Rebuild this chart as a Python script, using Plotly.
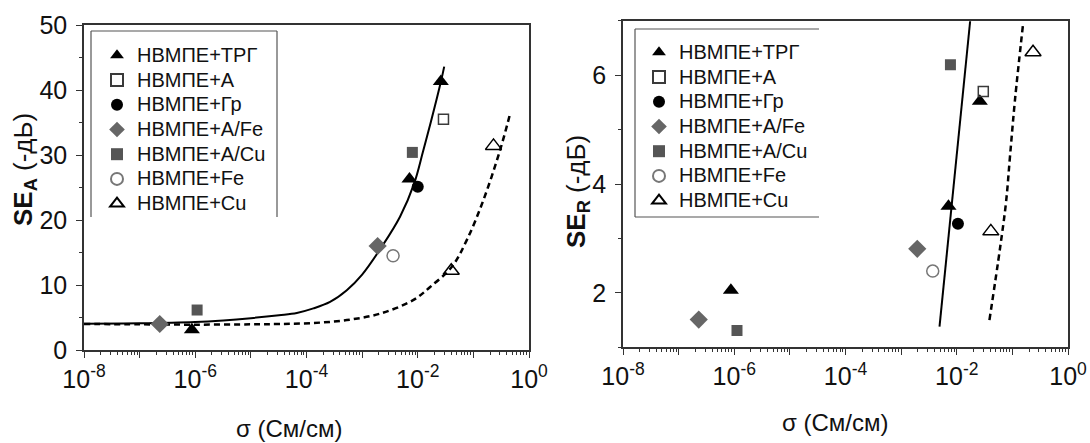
import plotly.graph_objects as go

W, H = 1090, 443

# ---------------- data ----------------
names = ["НВМПЕ+ТРГ", "НВМПЕ+А", "НВМПЕ+Гр", "НВМПЕ+A/Fe", "НВМПЕ+A/Cu", "НВМПЕ+Fe", "НВМПЕ+Cu"]

# conductivity (См/см) and SE_A (-dB) for the left panel
sig_A_trg = [8.7e-7, 7.1e-3, 2.6e-2]
se_A_trg = [3.1, 26.3, 41.3]
sig_A_a = [2.9e-2]
se_A_a = [35.5]
sig_A_gr = [1.0e-2]
se_A_gr = [25.1]
sig_A_afe = [2.3e-7, 1.9e-3]
se_A_afe = [4.0, 16.0]
sig_A_acu = [1.08e-6, 8.0e-3]
se_A_acu = [6.15, 30.4]
sig_A_fe = [3.6e-3]
se_A_fe = [14.5]
sig_A_cu = [4.0e-2, 0.23]
se_A_cu = [12.2, 31.4]

# fitted curves, left panel
fit_A_solid_sig = [1e-8, 1e-7, 1e-6, 3.2e-6, 1e-5, 3.2e-5, 6.7e-5, 1.33e-4, 2.65e-4, 5.3e-4,
                   1.0e-3, 2.26e-3, 4.8e-3, 8.6e-3, 1.24e-2, 1.71e-2, 2.61e-2, 2.99e-2]
fit_A_solid_se = [4.05, 4.1, 4.3, 4.55, 4.9, 5.35, 5.7, 6.4, 7.4, 9.2,
                  11.6, 15.9, 20.5, 25.6, 30.5, 35.0, 41.3, 43.6]
fit_A_dash_sig = [1e-8, 1e-7, 1e-6, 1e-5, 3.35e-5, 1.33e-4, 5.3e-4, 2.11e-3, 8.4e-3, 1.67e-2,
                  4.1e-2, 7.6e-2, 0.152, 0.303, 0.459]
fit_A_dash_se = [4.0, 3.95, 3.9, 3.95, 4.0, 4.15, 4.6, 5.6, 7.7, 9.7,
                 12.8, 16.9, 23.1, 30.8, 36.4]

# conductivity and SE_R (-dB) for the right panel
sig_R_trg = [8.7e-7, 7.1e-3, 2.6e-2]
se_R_trg = [2.05, 3.59, 5.52]
sig_R_a = [3.0e-2]
se_R_a = [5.70]
sig_R_gr = [1.05e-2]
se_R_gr = [3.27]
sig_R_afe = [2.3e-7, 1.95e-3]
se_R_afe = [1.51, 2.81]
sig_R_acu = [1.12e-6, 7.7e-3]
se_R_acu = [1.31, 6.19]
sig_R_fe = [3.7e-3]
se_R_fe = [2.40]
sig_R_cu = [4.1e-2, 0.235]
se_R_cu = [3.13, 6.42]

fit_R_solid_sig = [4.9e-3, 1.74e-2]
fit_R_solid_se = [1.38, 6.99]
fit_R_dash_sig = [3.87e-2, 6.0e-2, 7.7e-2, 9.1e-2, 0.112, 0.155]
fit_R_dash_se = [1.50, 2.82, 3.67, 4.53, 5.57, 6.92]

x_tick_vals = [1e-8, 1e-7, 1e-6, 1e-5, 1e-4, 1e-3, 1e-2, 1e-1, 1]
x_tick_text = ["10<sup>-8</sup>", "", "10<sup>-6</sup>", "", "10<sup>-4</sup>", "",
               "10<sup>-2</sup>", "", "10<sup>0</sup>"]

# ---------------- styles ----------------
FONT = "Liberation Sans, Arial, sans-serif"
styles = [
    dict(symbol="triangle-up", size=14, color="#000000", line=dict(width=0)),
    dict(symbol="square-open", size=10, color="#3a3a3a", line=dict(width=1.5)),
    dict(symbol="circle", size=12, color="#000000", line=dict(width=0)),
    dict(symbol="diamond", size=14, color="#666666", line=dict(width=0)),
    dict(symbol="square", size=11, color="#555555", line=dict(width=0)),
    dict(symbol="circle-open", size=12, color="#777777", line=dict(width=1.5)),
    dict(symbol="triangle-up-open", size=14, color="#000000", line=dict(width=1.5)),
]

left_sets = [(sig_A_trg, se_A_trg), (sig_A_a, se_A_a), (sig_A_gr, se_A_gr), (sig_A_afe, se_A_afe),
             (sig_A_acu, se_A_acu), (sig_A_fe, se_A_fe), (sig_A_cu, se_A_cu)]
right_sets = [(sig_R_trg, se_R_trg), (sig_R_a, se_R_a), (sig_R_gr, se_R_gr), (sig_R_afe, se_R_afe),
              (sig_R_acu, se_R_acu), (sig_R_fe, se_R_fe), (sig_R_cu, se_R_cu)]

fig = go.Figure()

# curves first (under markers)
fig.add_trace(go.Scatter(x=fit_A_solid_sig, y=fit_A_solid_se, mode="lines", line_shape="spline",
                         line=dict(color="#000", width=2), showlegend=False, xaxis="x", yaxis="y"))
fig.add_trace(go.Scatter(x=fit_A_dash_sig, y=fit_A_dash_se, mode="lines", line_shape="spline",
                         line=dict(color="#000", width=2.5, dash="6px,4px"), showlegend=False,
                         xaxis="x", yaxis="y"))
fig.add_trace(go.Scatter(x=fit_R_solid_sig, y=fit_R_solid_se, mode="lines",
                         line=dict(color="#000", width=2), showlegend=False, xaxis="x2", yaxis="y2"))
fig.add_trace(go.Scatter(x=fit_R_dash_sig, y=fit_R_dash_se, mode="lines", line_shape="spline",
                         line=dict(color="#000", width=2.5, dash="6px,4px"), showlegend=False,
                         xaxis="x2", yaxis="y2"))

LEG_TXT = '<span style="font-size:20px">{}</span>'
for nm, st, (xs, ys) in zip(names, styles, left_sets):
    fig.add_trace(go.Scatter(x=xs, y=ys, mode="markers", name=LEG_TXT.format(nm), marker=st,
                             xaxis="x", yaxis="y", legend="legend"))
for nm, st, (xs, ys) in zip(names, styles, right_sets):
    fig.add_trace(go.Scatter(x=xs, y=ys, mode="markers", name=LEG_TXT.format(nm), marker=st,
                             xaxis="x2", yaxis="y2", legend="legend2"))


def px(x):
    return x / W


def py(y):
    return 1 - y / H


minor_x = [m * 10 ** d for d in range(-8, 0) for m in range(2, 10)]

axis_common = dict(showline=True, linecolor="#333", linewidth=1.5, mirror=True,
                   ticks="outside", ticklen=6, tickwidth=1.3, tickcolor="#333",
                   showgrid=False, zeroline=False, automargin=False,
                   tickfont=dict(family=FONT, size=25, color="#111"))

xax = dict(axis_common, type="log", range=[-8, 0], tickmode="array",
           tickvals=x_tick_vals, ticktext=x_tick_text, ticklabelstandoff=0,
           minor=dict(tickmode="array", tickvals=minor_x, ticks="outside", ticklen=3,
                      tickwidth=1, tickcolor="#333", showgrid=False))

LEG_FONT = dict(family=FONT, size=16.7, color="#111")
fig.update_layout(
    width=W, height=H,
    margin=dict(l=0, r=0, t=0, b=0, autoexpand=False),
    paper_bgcolor="white", plot_bgcolor="white",
    xaxis=dict(xax, domain=[px(84), px(529)], anchor="y"),
    yaxis=dict(axis_common, domain=[py(350), py(25)], range=[0, 50], dtick=10, anchor="x",
               ticklabelstandoff=4,
               minor=dict(dtick=5, ticks="outside", ticklen=3, tickwidth=1, tickcolor="#333",
                          showgrid=False)),
    xaxis2=dict(xax, domain=[px(623), px(1068)], anchor="y2"),
    yaxis2=dict(axis_common, domain=[py(347.3), py(20.7)], range=[1, 7], tick0=0, dtick=2,
                anchor="x2", ticklabelstandoff=4,
                minor=dict(dtick=1, ticks="outside", ticklen=3, tickwidth=1, tickcolor="#333",
                           showgrid=False)),
    legend=dict(x=px(97), y=py(38), xanchor="left", yanchor="top", bgcolor="rgba(0,0,0,0)",
                font=LEG_FONT, itemsizing="constant", tracegroupgap=0),
    legend2=dict(x=px(639), y=py(35), xanchor="left", yanchor="top", bgcolor="rgba(0,0,0,0)",
                 font=LEG_FONT, itemsizing="constant", tracegroupgap=0),
)

# legend frames (partial, as in the reference)
lc = dict(color="#555", width=1.2)
frames = [
    (91, 31, 277, 31), (91, 31, 91, 217), (277, 31, 277, 217),
    (635, 29, 819, 29), (635, 29, 635, 217), (635, 217, 819, 217),
]
for x0, y0, x1, y1 in frames:
    fig.add_shape(type="line", xref="paper", yref="paper", x0=px(x0), y0=py(y0),
                  x1=px(x1), y1=py(y1), line=lc)

# axis titles
tf = dict(family=FONT, size=26, color="#111")
tfx = dict(family=FONT, size=24, color="#111")
fig.add_annotation(text="<b>SE</b><sub><b>A</b></sub> (-дЬ)", xref="paper", yref="paper",
                   x=px(24), y=py(170), xanchor="center", yanchor="middle", textangle=-90,
                   showarrow=False, font=tf)
fig.add_annotation(text="<b>SE</b><sub><b>R</b></sub> (-дБ)", xref="paper", yref="paper",
                   x=px(577), y=py(192), xanchor="center", yanchor="middle", textangle=-90,
                   showarrow=False, font=tf)
fig.add_annotation(text="σ (См/см)", xref="paper", yref="paper", xanchor="center",
                   yanchor="middle", x=px(289), y=py(428), showarrow=False, font=tfx)
fig.add_annotation(text="σ (См/см)", xref="paper", yref="paper", xanchor="center",
                   yanchor="middle", x=px(835), y=py(422), showarrow=False, font=tfx)

fig.write_html("out.html")
